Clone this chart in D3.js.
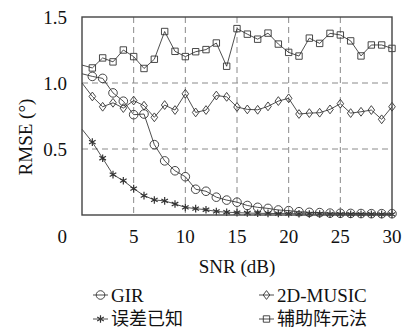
<!DOCTYPE html>
<html>
<head>
<meta charset="utf-8">
<script src="https://cdn.jsdelivr.net/npm/d3@7"></script>
<style>
  body { margin: 0; background: #fff; }
</style>
</head>
<body>
<svg id="chart"></svg>
<script>
const size = { w: 406, h: 330 };
const margin = { t: 17, r: 14, b: 115, l: 82 };
const serifFont = "Liberation Serif";
const cjkFont = "Noto Sans CJK SC";
const fontSize = 19;

// data
const snr = [0, 1, 2, 3, 4, 5, 6, 7, 8, 9, 10, 11, 12, 13, 14, 15, 16, 17, 18, 19, 20, 21, 22, 23, 24, 25, 26, 27, 28, 29, 30];
const girRmse = [1.07, 1.05, 1.035, 0.925, 0.862, 0.76, 0.765, 0.533, 0.41, 0.335, 0.29, 0.195, 0.18, 0.135, 0.113, 0.097, 0.072, 0.058, 0.05, 0.038, 0.033, 0.025, 0.02, 0.018, 0.014, 0.013, 0.012, 0.011, 0.01, 0.01, 0.01];
const musicRmse = [1.0, 0.898, 0.82, 0.85, 0.81, 0.867, 0.828, 0.74, 0.833, 0.795, 0.918, 0.777, 0.795, 0.905, 0.895, 0.818, 0.8, 0.797, 0.823, 0.863, 0.884, 0.765, 0.772, 0.775, 0.8, 0.843, 0.772, 0.782, 0.795, 0.725, 0.82];
const knownRmse = [0.65, 0.552, 0.43, 0.306, 0.26, 0.2, 0.147, 0.114, 0.107, 0.083, 0.058, 0.048, 0.04, 0.027, 0.021, 0.018, 0.015, 0.013, 0.012, 0.011, 0.01, 0.009, 0.008, 0.008, 0.007, 0.007, 0.006, 0.006, 0.006, 0.005, 0.005];
const auxRmse = [1.136, 1.114, 1.19, 1.16, 1.25, 1.2, 1.11, 1.18, 1.39, 1.24, 1.2, 1.237, 1.253, 1.303, 1.127, 1.412, 1.37, 1.332, 1.378, 1.295, 1.232, 1.204, 1.34, 1.3, 1.376, 1.364, 1.319, 1.205, 1.288, 1.288, 1.262];

const seriesNames = ['GIR', '2D-MUSIC', '误差已知', '辅助阵元法'];
const seriesMarkers = ['circle', 'diamond', 'star', 'square'];
const xTicks = [5, 10, 15, 20, 25, 30];
const yTicks = [0.5, 1.0, 1.5];
const gridX = [5, 10, 15, 20, 25];
const gridY = [0.5, 1.0];

const series = [girRmse, musicRmse, knownRmse, auxRmse].map((vals, i) => ({
    name: seriesNames[i],
    marker: seriesMarkers[i],
    points: snr.map((s, j) => ({ x: s, y: vals[j] }))
}));

const svg = d3.select('svg#chart')
    .attr('width', size.w)
    .attr('height', size.h);

const w = size.w - margin.l - margin.r;
const h = size.h - margin.t - margin.b;

const x = d3.scaleLinear().domain([0, 30]).range([0, w]);
const y = d3.scaleLinear().domain([0, 1.5]).range([h, 0]);

const g = svg.append('g')
    .attr('transform', `translate(${margin.l}, ${margin.t})`);

// marker shapes
function markerPath(kind) {
    switch (kind) {
        case 'circle': return 'M4.3,0A4.3,4.3 0 1,1 -4.3,0A4.3,4.3 0 1,1 4.3,0Z';
        case 'square': return 'M-3.2,-3.2H3.2V3.2H-3.2Z';
        case 'diamond': return 'M0,-4.4L3.3,0L0,4.4L-3.3,0Z';
        case 'star': return 'M0,-3.8V3.8M-3.3,-1.9L3.3,1.9M-3.3,1.9L3.3,-1.9';
    }
}

// grid
g.selectAll('line.gx')
    .data(gridX)
    .join('line')
    .classed('gx', true)
    .attr('x1', d => x(d)).attr('x2', d => x(d))
    .attr('y1', 0).attr('y2', h)
    .attr('stroke', '#8a8a8a')
    .attr('stroke-width', 1)
    .attr('stroke-dasharray', '6,4');

g.selectAll('line.gy')
    .data(gridY)
    .join('line')
    .classed('gy', true)
    .attr('x1', 0).attr('x2', w)
    .attr('y1', d => y(d)).attr('y2', d => y(d))
    .attr('stroke', '#8a8a8a')
    .attr('stroke-width', 1)
    .attr('stroke-dasharray', '6,4');

// lines
const line = d3.line().x(d => x(d.x)).y(d => y(d.y));

const sg = g.selectAll('g.series')
    .data(series)
    .join('g')
    .classed('series', true);

sg.append('path')
    .attr('d', d => line(d.points))
    .attr('fill', 'none')
    .attr('stroke', '#222')
    .attr('stroke-width', 0.8);

sg.selectAll('path.mk')
    .data(d => d.points.slice(1).map(p => ({ ...p, marker: d.marker })))
    .join('path')
    .classed('mk', true)
    .attr('d', d => markerPath(d.marker))
    .attr('transform', d => `translate(${x(d.x)}, ${y(d.y)})`)
    .attr('fill', 'none')
    .attr('stroke', '#333')
    .attr('stroke-width', d => d.marker === 'star' ? 1.2 : 0.9);

// frame
g.append('rect')
    .attr('width', w)
    .attr('height', h)
    .attr('fill', 'none')
    .attr('stroke', '#444')
    .attr('stroke-width', 1.4);

// tick labels
g.selectAll('text.xt')
    .data(xTicks)
    .join('text')
    .classed('xt', true)
    .attr('x', d => x(d))
    .attr('y', h + 21)
    .attr('dy', '0.35em')
    .attr('text-anchor', 'middle')
    .style('font-family', serifFont)
    .style('font-size', fontSize + 'px')
    .attr('fill', '#111')
    .text(d => d);

g.selectAll('text.yt')
    .data(yTicks)
    .join('text')
    .classed('yt', true)
    .attr('x', -15)
    .attr('y', d => y(d))
    .attr('dy', '0.35em')
    .attr('text-anchor', 'end')
    .style('font-family', serifFont)
    .style('font-size', fontSize + 'px')
    .attr('fill', '#111')
    .text(d => d.toFixed(1));

// shared origin label
g.append('text')
    .attr('x', -15)
    .attr('y', h + 21)
    .attr('dy', '0.35em')
    .attr('text-anchor', 'end')
    .style('font-family', serifFont)
    .style('font-size', fontSize + 'px')
    .attr('fill', '#111')
    .text('0');

// axis titles
g.append('text')
    .attr('x', w / 2)
    .attr('y', h + 51)
    .attr('dy', '0.35em')
    .attr('text-anchor', 'middle')
    .style('font-family', serifFont)
    .style('font-size', fontSize + 'px')
    .attr('fill', '#111')
    .text('SNR (dB)');

g.append('text')
    .attr('transform', `translate(${-57}, ${120}) rotate(-90)`)
    .attr('dy', '0.35em')
    .attr('text-anchor', 'middle')
    .style('font-family', serifFont)
    .style('font-size', fontSize + 'px')
    .attr('fill', '#111')
    .text('RMSE (°)');

// legend
const lg = svg.append('g')
    .attr('transform', 'translate(93, 295)');

const item = lg.selectAll('g.item')
    .data(series)
    .join('g')
    .classed('item', true)
    .attr('transform', (d, i) => `translate(${(i % 2) * 166}, ${Math.floor(i / 2) * 24})`);

item.append('line')
    .attr('x1', 0).attr('x2', 15)
    .attr('stroke', '#222')
    .attr('stroke-width', 0.8);

item.append('path')
    .attr('d', d => markerPath(d.marker))
    .attr('transform', 'translate(7.5, 0)')
    .attr('fill', 'none')
    .attr('stroke', '#333')
    .attr('stroke-width', d => d.marker === 'star' ? 1.2 : 0.9);

item.append('text')
    .attr('x', 18)
    .attr('dy', '0.35em')
    .style('font-family', d => /[\u4e00-\u9fff]/.test(d.name) ? cjkFont : serifFont)
    .style('font-size', d => /[\u4e00-\u9fff]/.test(d.name) ? '18px' : fontSize + 'px')
    .attr('fill', '#111')
    .text(d => d.name);
</script>
</body>
</html>
